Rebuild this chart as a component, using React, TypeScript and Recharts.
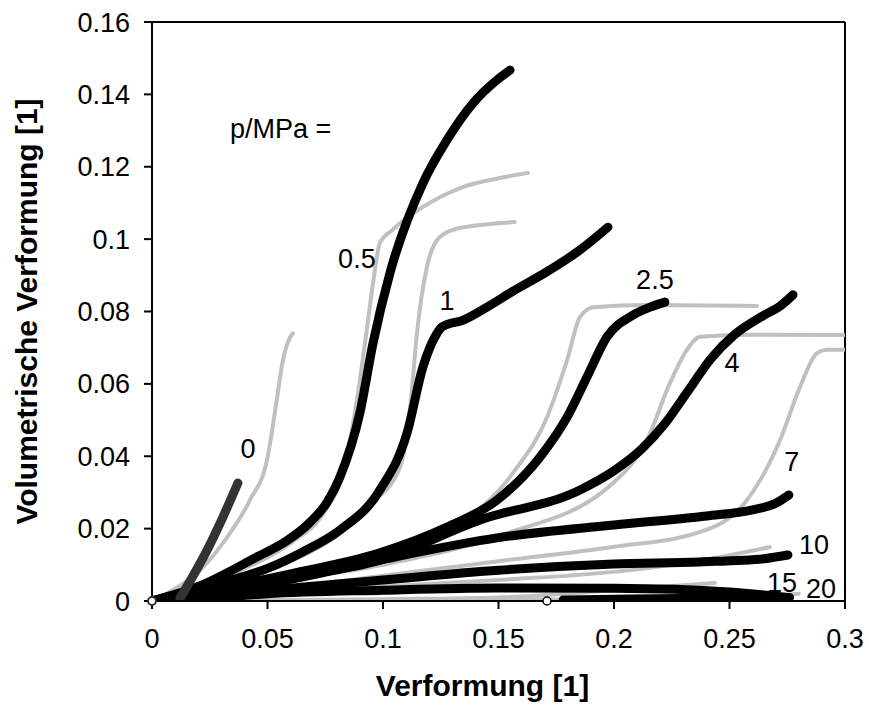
import React from "react";
import {
  LineChart,
  Line,
  XAxis,
  YAxis,
  ReferenceLine,
  ReferenceDot,
} from "recharts";

// x: Verformung, y: volumetrische Verformung
// measured curves (thick black)
const EXP_0 = [[0.0121, 0.0008], [0.018, 0.0072], [0.0238, 0.014], [0.0307, 0.0232], [0.0372, 0.0326]];
const EXP_05 = [[0, 0], [0.02, 0.004], [0.0455, 0.0122], [0.058, 0.0165], [0.068, 0.0215], [0.076, 0.0275], [0.0814, 0.0343], [0.09, 0.052], [0.0957, 0.0713], [0.103, 0.0906], [0.1173, 0.1155], [0.1277, 0.1274], [0.139, 0.1376], [0.1494, 0.144], [0.155, 0.1467]];
const EXP_1 = [[0, 0], [0.03, 0.005], [0.05, 0.009], [0.065, 0.0135], [0.0814, 0.0196], [0.0987, 0.0307], [0.1104, 0.0464], [0.1173, 0.0647], [0.1234, 0.074], [0.1255, 0.0757], [0.135, 0.0777], [0.145, 0.0812], [0.1563, 0.0856], [0.171, 0.091], [0.1853, 0.097], [0.1974, 0.1033]];
const EXP_25 = [[0, 0], [0.03, 0.0035], [0.06, 0.0075], [0.0987, 0.0133], [0.1277, 0.0204], [0.1494, 0.0279], [0.168, 0.0398], [0.1797, 0.0508], [0.1883, 0.0619], [0.197, 0.073], [0.2082, 0.079], [0.2156, 0.0812], [0.222, 0.0826]];
const EXP_4 = [[0, 0], [0.03, 0.003], [0.06, 0.0065], [0.0987, 0.0113], [0.142, 0.0224], [0.1853, 0.0307], [0.2, 0.036], [0.212, 0.042], [0.222, 0.049], [0.232, 0.058], [0.242, 0.067], [0.252, 0.0735], [0.265, 0.079], [0.2719, 0.0815], [0.2775, 0.0846]];
const EXP_7 = [[0, 0], [0.03, 0.003], [0.06, 0.006], [0.1, 0.0115], [0.15, 0.0175], [0.2, 0.021], [0.24, 0.0235], [0.26, 0.0252], [0.27, 0.027], [0.2757, 0.0293]];
const EXP_10 = [[0, 0], [0.05, 0.003], [0.1, 0.0058], [0.15, 0.0085], [0.2, 0.0102], [0.237, 0.0108], [0.265, 0.0117], [0.2753, 0.0127]];
const EXP_15 = [[0.015, 0], [0.05, 0.002], [0.1, 0.003], [0.15, 0.0036], [0.2, 0.0035], [0.25, 0.0025], [0.275, 0.001]];
const EXP_20 = [[0.178, 0.0003], [0.2, 0.0005], [0.25, 0.0008], [0.27, 0.0006], [0.276, 0.001]];

// model curves (thin grey)
const SIM_0 = [[0, 0], [0.009, 0.003], [0.02, 0.008], [0.0307, 0.016], [0.0424, 0.0279], [0.0498, 0.039], [0.054, 0.0555], [0.0567, 0.0666], [0.0595, 0.0725], [0.061, 0.074]];
const SIM_05 = [[0, 0], [0.02, 0.004], [0.04, 0.009], [0.06, 0.016], [0.075, 0.025], [0.083, 0.036], [0.0887, 0.0555], [0.093, 0.075], [0.0957, 0.0879], [0.0987, 0.099], [0.104, 0.1025], [0.1173, 0.1089], [0.1346, 0.1144], [0.15, 0.1168], [0.1628, 0.1183]];
const SIM_1 = [[0, 0], [0.03, 0.005], [0.06, 0.011], [0.08, 0.018], [0.095, 0.027], [0.1074, 0.037], [0.112, 0.055], [0.1147, 0.074], [0.119, 0.0923], [0.1234, 0.0997], [0.13, 0.1025], [0.142, 0.1039], [0.157, 0.1047]];
const SIM_25 = [[0, 0], [0.05, 0.006], [0.1, 0.013], [0.13, 0.02], [0.1563, 0.0354], [0.171, 0.0508], [0.1797, 0.0666], [0.1853, 0.0785], [0.191, 0.0812], [0.2143, 0.0818], [0.2619, 0.0815]];
const SIM_4 = [[0, 0], [0.05, 0.005], [0.1, 0.01], [0.15, 0.018], [0.1996, 0.0326], [0.2143, 0.0445], [0.2242, 0.0602], [0.2316, 0.0694], [0.2372, 0.073], [0.26, 0.0736], [0.3, 0.0735]];
const SIM_7 = [[0, 0], [0.05, 0.003], [0.1, 0.007], [0.15, 0.011], [0.2, 0.015], [0.236, 0.0188], [0.2576, 0.0279], [0.2719, 0.0445], [0.2805, 0.0591], [0.2879, 0.0685], [0.2922, 0.0694], [0.3, 0.0694]];
const SIM_10 = [[0, 0], [0.05, 0.002], [0.1, 0.004], [0.15, 0.0058], [0.2083, 0.0086], [0.2429, 0.0118], [0.2675, 0.0149]];
const SIM_15 = [[0, 0], [0.1, 0.0005], [0.15, 0.001], [0.2, 0.003], [0.2437, 0.005]];
const SIM_20 = [[0.05, 0], [0.15, 0.0003], [0.25, 0.001], [0.28, 0.002]];

const X_TICKS = [0, 0.05, 0.1, 0.15, 0.2, 0.25, 0.3];
const Y_TICKS = [0, 0.02, 0.04, 0.06, 0.08, 0.1, 0.12, 0.14, 0.16];

// pressure labels p/MPa and where they sit
const P_LABELS = ["0", "0.5", "1", "2.5", "4", "7", "10", "15", "20"];
const P_LABEL_POS = [[0.0416, 0.0423], [0.0887, 0.0948], [0.1277, 0.0832], [0.2177, 0.089], [0.2511, 0.0658], [0.277, 0.0387], [0.2866, 0.0157], [0.2727, 0.0052], [0.2896, 0.0036]];

const toPts = (arr: number[][]) => arr.map(([x, y]) => ({ x, y }));

const FONT = "'Liberation Sans', Arial, sans-serif";

const measured = [EXP_05, EXP_1, EXP_25, EXP_4, EXP_7, EXP_10, EXP_15, EXP_20];
const model = [SIM_0, SIM_05, SIM_1, SIM_25, SIM_4, SIM_7, SIM_10, SIM_15, SIM_20];

export default function App() {
  return (
    <div style={{ width: 869, height: 718, background: "#fff" }}>
      <style>{"body{margin:0}"}</style>
      <LineChart
        width={869}
        height={718}
        margin={{ top: 22, right: 24, left: 0, bottom: 0 }}
      >
        <XAxis
          type="number"
          dataKey="x"
          domain={[0, 0.3]}
          ticks={X_TICKS}
          allowDataOverflow
          height={117}
          stroke="#000"
          strokeWidth={2}
          tickSize={8}
          tickMargin={20}
          tick={{ fill: "#000", fontSize: 27, fontFamily: FONT }}
          label={{
            value: "Verformung [1]",
            position: "insideBottom",
            offset: 22,
            dx: -16,
            fill: "#000",
            fontSize: 30,
            fontWeight: "bold",
            fontFamily: FONT,
          }}
        />
        <YAxis
          type="number"
          dataKey="y"
          domain={[0, 0.16]}
          ticks={Y_TICKS}
          allowDataOverflow
          width={152}
          stroke="#000"
          strokeWidth={2}
          tickSize={8}
          tickMargin={14}
          tick={{ fill: "#000", fontSize: 27, fontFamily: FONT }}
          label={{
            value: "Volumetrische Verformung [1]",
            angle: -90,
            position: "insideLeft",
            offset: 26,
            style: { textAnchor: "middle" },
            fill: "#000",
            fontSize: 30,
            fontWeight: "bold",
            fontFamily: FONT,
          }}
        />
        <ReferenceLine y={0.16} stroke="#000" strokeWidth={2} />
        <ReferenceLine x={0.3} stroke="#000" strokeWidth={2} />

        {model.map((d, i) => (
          <Line
            key={"sim" + i}
            data={toPts(d)}
            dataKey="y"
            type="monotone"
            stroke="#c0c0c0"
            strokeWidth={4}
            strokeLinecap="round"
            dot={false}
            isAnimationActive={false}
          />
        ))}
        {measured.map((d, i) => (
          <Line
            key={"exp" + i}
            data={toPts(d)}
            dataKey="y"
            type="monotone"
            stroke="#000"
            strokeWidth={9}
            strokeLinecap="round"
            strokeLinejoin="round"
            dot={false}
            isAnimationActive={false}
          />
        ))}
        <Line
          data={toPts(EXP_0)}
          dataKey="y"
          type="monotone"
          stroke="#333"
          strokeWidth={9}
          strokeLinecap="round"
          dot={false}
          isAnimationActive={false}
        />
        <ReferenceDot x={0} y={0} r={4} fill="#fff" stroke="#333" strokeWidth={2} ifOverflow="visible" />
        <ReferenceDot x={0.171} y={0} r={4} fill="#fff" stroke="#000" strokeWidth={1.5} ifOverflow="visible" />

        {P_LABELS.map((t, i) => (
          <ReferenceDot
            key={"lbl" + t}
            x={P_LABEL_POS[i][0]}
            y={P_LABEL_POS[i][1]}
            r={0}
            stroke="none"
            fill="none"
            ifOverflow="visible"
            label={{ value: t, position: "center", fill: "#000", fontSize: 27, fontFamily: FONT }}
          />
        ))}
        <ReferenceDot
          x={0.0338}
          y={0.1305}
          r={0}
          stroke="none"
          fill="none"
          label={{ value: "p/MPa =", position: "right", offset: 0, fill: "#000", fontSize: 27, fontFamily: FONT }}
        />
      </LineChart>
    </div>
  );
}
